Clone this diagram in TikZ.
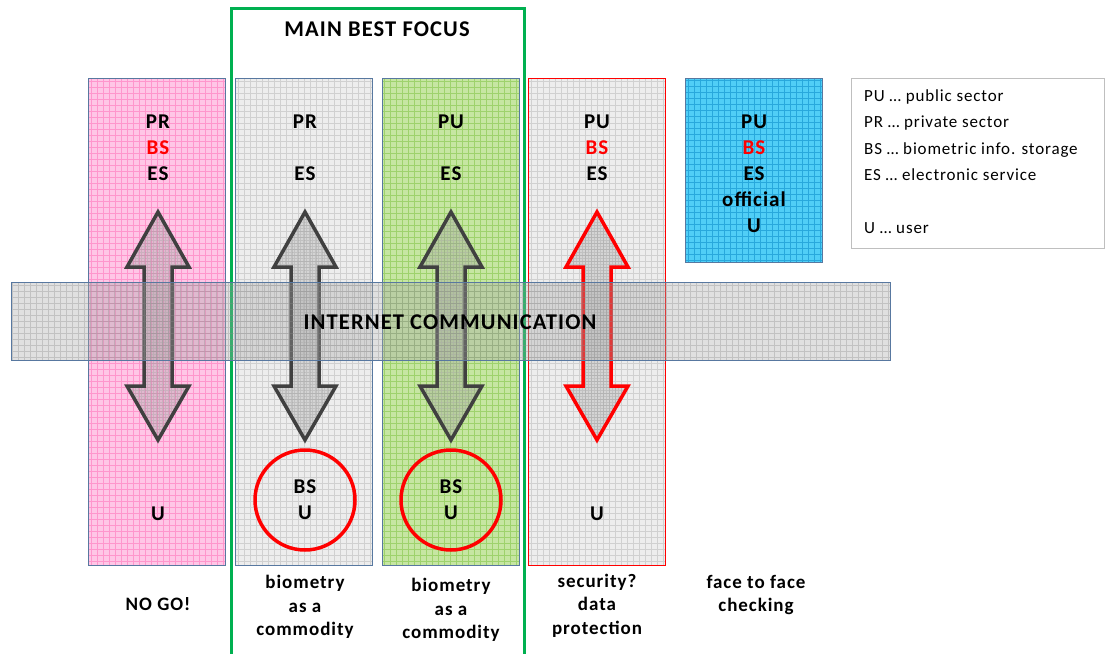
\documentclass[tikz,border=0pt]{standalone}
\usepackage{fontspec}
\setmainfont{Carlito}[LetterSpace=5]
\usetikzlibrary{calc}

\definecolor{pinkfill}{HTML}{FFC6E6}
\definecolor{pinkgrid}{HTML}{FF96CC}
\definecolor{grayfill}{HTML}{EDEDED}
\definecolor{graygrid}{HTML}{D0D0D0}
\definecolor{greenfill}{HTML}{C6E6A2}
\definecolor{greengrid}{HTML}{9ED26C}
\definecolor{cyanfill}{HTML}{50CEF6}
\definecolor{cyangrid}{HTML}{28A8DC}
\definecolor{edgeblue}{HTML}{5878A0}
\definecolor{focusgreen}{HTML}{00B050}
\definecolor{arrowedge}{HTML}{404040}
\definecolor{legendedge}{HTML}{BFBFBF}

\tikzset{
  gridfill/.style 2 args={fill=#1,
    path picture={\draw[#2, line width=0.5pt, step=6pt] (path picture bounding box.south west) grid (path picture bounding box.north east);}},
  colbox/.style={rectangle, draw=edgeblue, line width=0.8pt, inner sep=0pt, minimum width=137pt, minimum height=487pt},
  tag/.style={font=\bfseries\fontsize{21}{26}\selectfont, align=center, inner sep=0pt},
  caption/.style={font=\bfseries\fontsize{19}{23.5}\selectfont, align=center, inner sep=0pt},
  arrowbody/.style={line width=3.5pt, line join=miter, fill=black!45, fill opacity=0.25,
    path picture={\draw[black!35, draw opacity=0.4, line width=0.4pt, step=3pt] (path picture bounding box.south west) grid (path picture bounding box.north east);}},
  ring/.style={circle, draw=red, line width=3.5pt, minimum size=100pt, inner sep=0pt}
}

\begin{document}
\begin{tikzpicture}[x=1pt, y=-1pt]
\useasboundingbox (0,0) rectangle (1105,653);

% the four columns
\node[colbox, gridfill={pinkfill}{pinkgrid}] (colA) at (157,321.5) {};
\node[colbox, gridfill={grayfill}{graygrid}] (colB) at (304,321.5) {};
\node[colbox, gridfill={greenfill}{greengrid}] (colC) at (450.5,321.5) {};
\node[colbox, draw=red, gridfill={grayfill}{graygrid}] (colD) at (597,321.5) {};

% official box
\node[colbox, minimum height=184pt, gridfill={cyanfill}{cyangrid}] (colE) at (754,170) {};

% column heads
\node[tag] (headA) at (158,147.5) {PR\\ \textcolor{red}{BS}\\ ES};
\node[tag] (headB) at (305,147.5) {PR\\[26pt] ES};
\node[tag] (headC) at (451,147.5) {PU\\[26pt] ES};
\node[tag] (headD) at (597,147.5) {PU\\ \textcolor{red}{BS}\\ ES};
\node[tag] (headE) at (754,174) {PU\\ \textcolor{red}{BS}\\ ES\\ official\\ U};

% users at the bottom
\node[tag] (userA) at (158,514) {U};
\node[tag] (userD) at (597,514) {U};
\node[ring, tag] (userB) at (305,500) {BS\\ U};
\node[ring, tag] (userC) at (451,500) {BS\\ U};

% double block arrows
\foreach \c/\x/\e in {A/158/arrowedge, B/305/arrowedge, C/451/arrowedge, D/597/red}{
  \coordinate (\c-top) at (\x,212);
  \coordinate (\c-bot) at (\x,440);
  \draw[arrowbody, draw=\e] (\c-top) -- ++(31,55) -- ++(-17,0) -- ($(\c-bot)+(14,-54)$) -- ++(17,0)
    -- (\c-bot) -- ++(-31,-54) -- ++(17,0) -- ($(\c-top)+(-14,55)$) -- ++(-17,0) -- cycle;
}

% focus frame
\draw[focusgreen, line width=3pt] (231,665) |- (524,8) -- (524,665);
\node[tag, font=\bfseries\fontsize{22.5}{26}\selectfont] (focus) at (377,29) {MAIN BEST FOCUS};

% internet band on top
\node[rectangle, draw=edgeblue, line width=0.8pt, minimum width=879pt, minimum height=78pt,
  fill=black!35, fill opacity=0.35,
  path picture={\draw[black!45, draw opacity=0.35, line width=0.5pt, step=6pt] (path picture bounding box.south west) grid (path picture bounding box.north east);}]
  (net) at (450.5,321) {};
\node[tag, font=\bfseries\fontsize{22.5}{26}\selectfont] (netlabel) at (450,322) {INTERNET COMMUNICATION};

% captions
\node[caption] (capA) at (158,604) {NO GO!};
\node[caption] (capB) at (305,607) {biometry\\ as a\\ commodity};
\node[caption] (capC) at (451,610) {biometry\\ as a\\ commodity};
\node[caption] (capD) at (597,605.5) {security?\\ data\\ protection};
\node[caption] (capE) at (756,595) {face to face\\ checking};

% legend
\draw[legendedge, line width=1pt] (851,78) rectangle (1104,248);
\node[anchor=north west, align=left, inner sep=0pt, font=\fontsize{17}{26.3}\selectfont] (legend) at (864,89.5)
  {PU … public sector\\ PR … private sector\\ BS … biometric info. storage\\ ES … electronic service\\[26.3pt] U … user};
\end{tikzpicture}
\end{document}
